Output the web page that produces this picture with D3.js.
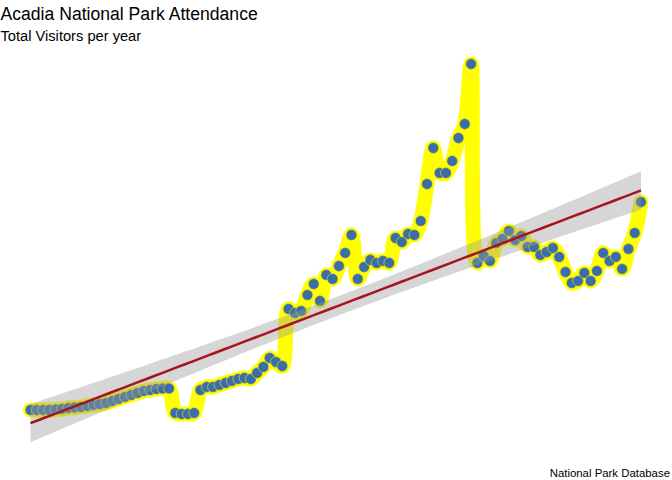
<!DOCTYPE html>
<html><head><meta charset="utf-8">
<script src="https://cdn.jsdelivr.net/npm/d3@7"></script>
<style>body{margin:0;background:#fff}svg{display:block}</style>
</head><body>
<script>
const startYear = 1919;
const visitors = [
93000,93000,93000,93000,101000,109000,124000,132000,140000,155000,
171000,186000,202000,233000,264000,295000,326000,357000,388000,403000,
419000,426000,426000,47000,31000,31000,47000,403000,450000,450000,
481000,512000,543000,574000,589000,574000,667000,760000,899000,837000,
775000,1659000,1597000,1628000,1876000,2046000,1783000,2186000,2124000,2325000,
2527000,2806000,2124000,2310000,2418000,2372000,2403000,2372000,2759000,2697000,
2821000,2806000,3023000,3596000,4154000,3767000,3767000,3953000,4309000,4526000,
5456000,2372000,2480000,2403000,2682000,2744000,2868000,2728000,2790000,2620000,
2620000,2496000,2542000,2604000,2465000,2232000,2062000,2093000,2217000,2093000,
2248000,2527000,2403000,2465000,2279000,2589000,2837000,3317000];
const years = visitors.map((v,i)=>startYear+i);
const title = "Acadia National Park Attendance";
const subtitle = "Total Visitors per year";
const caption = "National Park Database";

const W=672,H=480;
const svg=d3.select("body").append("svg").attr("width",W).attr("height",H);
const data=years.map((y,i)=>({x:y,v:visitors[i]}));
const x=d3.scaleLinear().domain(d3.extent(years)).range([30.5,641]);
const y=d3.scaleLinear().domain([0,6000000]).range([416,416-6000/15.5]);

// yellow path
svg.append("path").datum(data)
  .attr("d",d3.line().x(d=>x(d.x)).y(d=>y(d.v)).curve(d3.curveCatmullRom.alpha(0.5)))
  .attr("fill","none").attr("stroke","#FFFF00").attr("stroke-width",15)
  .attr("stroke-linejoin","round").attr("stroke-linecap","round");

// points
svg.append("g").selectAll("circle").data(data).join("circle")
  .attr("cx",d=>x(d.x)).attr("cy",d=>y(d.v)).attr("r",5.4)
  .attr("fill","#3B6EA8").attr("stroke","#F0E800").attr("stroke-width",0.6);

// regression
const n=data.length;
const mx=d3.mean(years), my=d3.mean(visitors);
let sxx=0,sxy=0; data.forEach(d=>{sxx+=(d.x-mx)**2; sxy+=(d.x-mx)*(d.v-my);});
const b=sxy/sxx, a=my-b*mx;
let sse=0; data.forEach(d=>{sse+=(d.v-(a+b*d.x))**2;});
const s=Math.sqrt(sse/(n-2)), t=1.985;
const xs=d3.range(80).map(i=>years[0]+(years[n-1]-years[0])*i/79);
const band=xs.map(xx=>{const f=a+b*xx; const se=s*Math.sqrt(1/n+(xx-mx)**2/sxx); return {x:xx,lo:f-t*se,hi:f+t*se,f};});
svg.append("path").datum(band)
  .attr("d",d3.area().x(d=>x(d.x)).y0(d=>y(d.lo)).y1(d=>y(d.hi)))
  .attr("fill","#999999").attr("fill-opacity",0.4);
svg.append("path").datum(band)
  .attr("d",d3.line().x(d=>x(d.x)).y(d=>y(d.f)))
  .attr("fill","none").attr("stroke","#A8141D").attr("stroke-width",2.5);

svg.append("text").attr("x",0.5).attr("y",19.5).text(title)
  .attr("font-family","Liberation Sans, Arial, sans-serif").attr("font-size",17.6).attr("fill","#000");
svg.append("text").attr("x",0.5).attr("y",41).text(subtitle)
  .attr("font-family","Liberation Sans, Arial, sans-serif").attr("font-size",14.67).attr("fill","#000");
svg.append("text").attr("x",670).attr("y",476.5).attr("text-anchor","end").text(caption)
  .attr("font-family","Liberation Sans, Arial, sans-serif").attr("font-size",11.4).attr("fill","#000");
</script>
</body></html>
